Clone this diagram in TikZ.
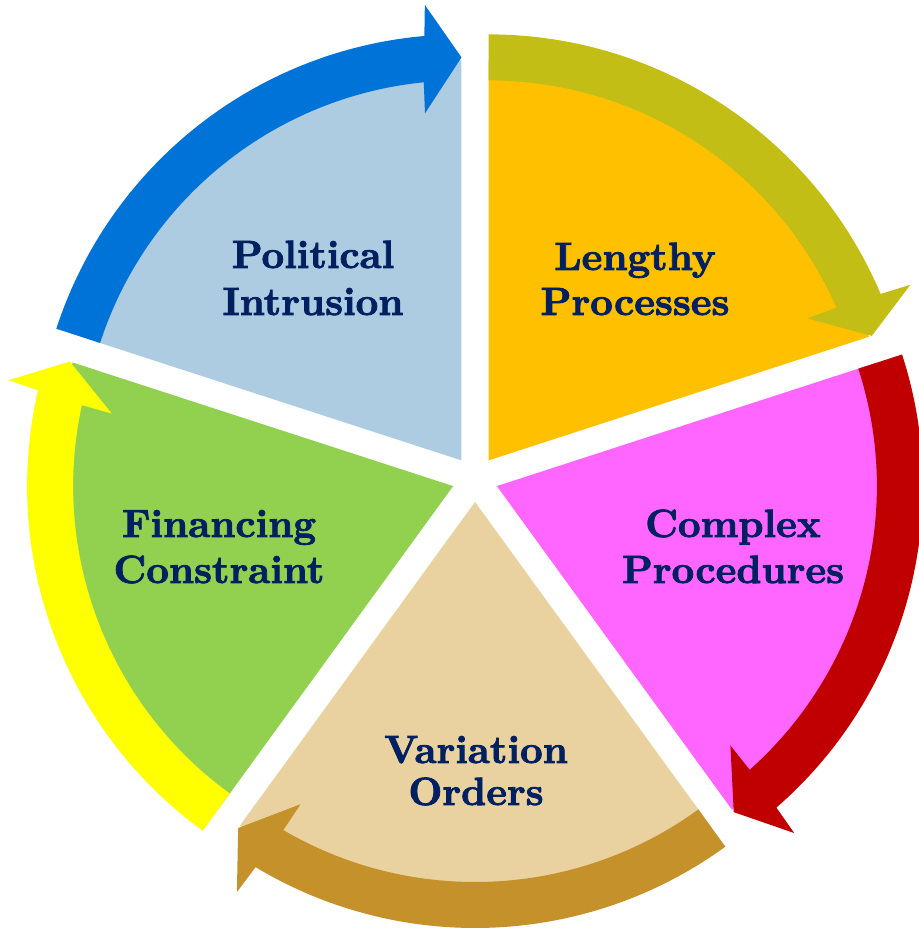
\documentclass[tikz,border=0pt]{standalone}
\usepackage{fontspec}
\newfontfamily\labelfont{lmroman10-bold.otf}[FakeBold=2]
\usetikzlibrary{calc}
\definecolor{polfill}{RGB}{173,203,225}
\definecolor{polarrow}{RGB}{0,115,217}
\definecolor{lenfill}{RGB}{255,192,0}
\definecolor{lenarrow}{RGB}{195,190,22}
\definecolor{comfill}{RGB}{255,102,255}
\definecolor{comarrow}{RGB}{192,0,0}
\definecolor{varfill}{RGB}{234,210,160}
\definecolor{vararrow}{RGB}{197,145,43}
\definecolor{finfill}{RGB}{146,208,80}
\definecolor{finarrow}{RGB}{255,255,0}
\definecolor{labelnavy}{RGB}{0,32,96}
\newcommand{\CycSector}[4]{% #1 low angle, #2 high angle, #3 colour, #4 name of shifted centre
  \pgfmathsetmacro{\segmidangle}{(#1+#2)/2}
  \coordinate (#4) at ($(C)+(\segmidangle:23pt)$);
  \fill[#3] (#4) -- ($(#4)+({#1}:400pt)$) arc[start angle=#1, end angle=#2, radius=400pt] -- cycle;
}
\newcommand{\CycArrow}[4]{% #1 tip angle, #2 tail angle, #3 colour, #4 centre
  \fill[#3] ($(#4)+({#2}:426pt)$) arc[start angle=#2, end angle={#1+5}, radius=426pt]
    -- ($(#4)+({#1+4.6}:457pt)$) -- ($(#4)+({#1}:403pt)$) -- ($(#4)+({#1+6}:349pt)$)
    -- ($(#4)+({#1+5.7}:380pt)$) arc[start angle={#1+5.7}, end angle=#2, radius=380pt] -- cycle;
}
\tikzset{
  cyclabel/.style={anchor=base, inner sep=0pt, text=labelnavy,
    font=\labelfont\fontsize{39.4}{46}\selectfont}
}
\begin{document}
\begin{tikzpicture}[x=1pt,y=1pt]
\useasboundingbox (0,0) rectangle (918,928);
\coordinate (C) at (475,449);
% sectors
\CycSector{90}{162}{polfill}{Pc}
\CycSector{18}{90}{lenfill}{Lc}
\CycSector{-54}{18}{comfill}{Kc}
\CycSector{-126}{-54}{varfill}{Vc}
\CycSector{162}{234}{finfill}{Fc}
% arrows
\CycArrow{90}{162}{polarrow}{Pc}
\CycArrow{18}{90}{lenarrow}{Lc}
\CycArrow{-54}{18}{comarrow}{Kc}
\CycArrow{-126}{-54}{vararrow}{Vc}
\CycArrow{162}{234}{finarrow}{Fc}
% labels
\node[cyclabel] (pol1) at (313,660) {Political};
\node[cyclabel] (pol2) at (313,613) {Intrusion};
\node[cyclabel] (len1) at (635,658) {Lengthy};
\node[cyclabel] (len2) at (635,613) {Processes};
\node[cyclabel] (com1) at (733,391) {Complex};
\node[cyclabel] (com2) at (733,345) {Procedures};
\node[cyclabel] (var1) at (476,165) {Variation};
\node[cyclabel] (var2) at (476,123) {Orders};
\node[cyclabel] (fin1) at (219,391) {Financing};
\node[cyclabel] (fin2) at (219,345) {Constraint};
\end{tikzpicture}
\end{document}
